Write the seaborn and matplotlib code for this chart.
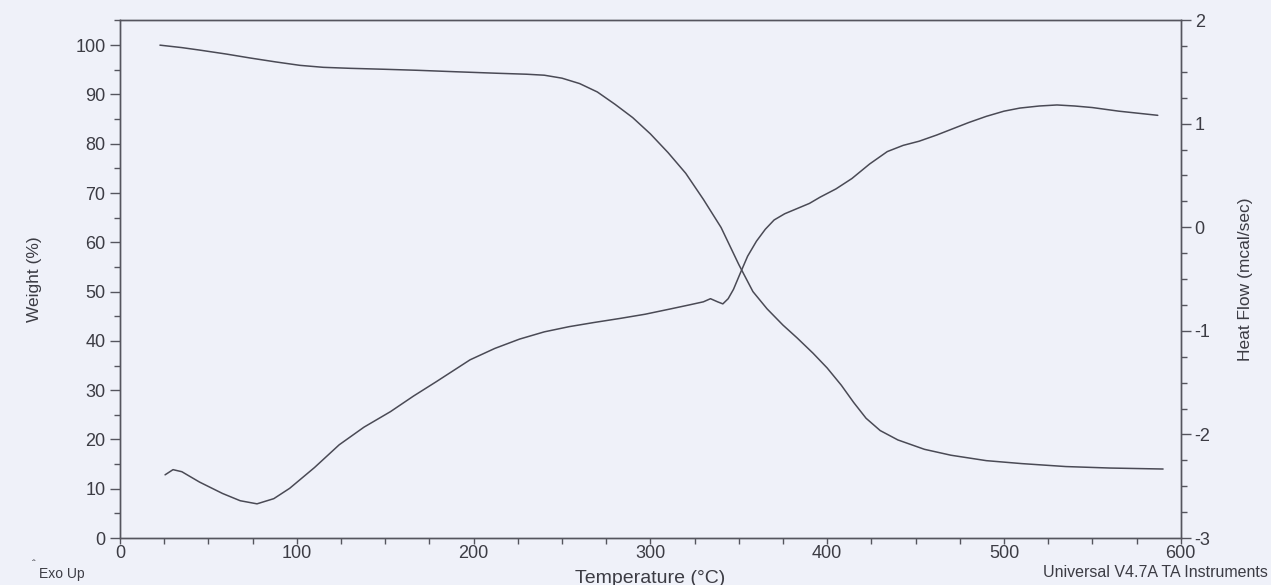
import matplotlib
matplotlib.use("Agg")
import matplotlib.pyplot as plt
import seaborn as sns
from matplotlib.ticker import MultipleLocator

# TGA weight curve (left axis)
temp_w = [22.6, 35, 45, 60, 73.5, 88, 101.8, 115, 130, 150, 168, 190, 213,
          230, 240, 250, 260, 270, 280, 290, 300, 310, 320, 330, 340, 350,
          358, 366, 375, 383, 392, 400, 408, 415, 422, 430, 440, 455, 470,
          490, 510, 535, 560, 590]
weight = [100, 99.5, 99, 98.2, 97.4, 96.6, 95.9, 95.5, 95.3, 95.1, 94.9, 94.6,
          94.3, 94.1, 93.9, 93.3, 92.2, 90.5, 88, 85.3, 82, 78.2, 74, 68.7, 63,
          55.5, 50, 46.5, 43.2, 40.6, 37.5, 34.5, 31, 27.5, 24.3, 21.8, 19.9,
          18, 16.8, 15.7, 15.1, 14.5, 14.2, 14.0]

# DSC heat flow curve (right axis)
temp_h = [25.5, 30, 35, 45, 58, 68, 77.5, 87, 96, 110, 124, 138, 153, 166,
          179, 198, 212, 226, 240, 254, 268, 283, 297, 311, 322, 330, 334, 338,
          341, 344, 347, 350.7, 355, 360, 365, 370, 376, 383, 390, 396, 405,
          414, 424, 434, 443, 452, 462, 471, 480, 490, 500, 509, 520, 530, 540,
          550, 565, 587]
heat_flow = [-2.39, -2.34, -2.36, -2.46, -2.57, -2.64, -2.67, -2.62, -2.52,
             -2.32, -2.10, -1.93, -1.78, -1.63, -1.49, -1.28, -1.17, -1.08,
             -1.01, -0.96, -0.92, -0.88, -0.84, -0.79, -0.75, -0.72, -0.69,
             -0.72, -0.74, -0.69, -0.60, -0.45, -0.28, -0.135, -0.02, 0.07,
             0.13, 0.18, 0.23, 0.29, 0.37, 0.47, 0.61, 0.73, 0.79, 0.83, 0.89,
             0.95, 1.01, 1.07, 1.12, 1.15, 1.17, 1.18, 1.17, 1.155, 1.12, 1.08]

paper = "#eff1f9"
ink = "#3c3c44"
curve = "#4a4a55"

sns.set_theme(style="ticks")
plt.rcParams["font.family"] = ["Liberation Sans", "DejaVu Sans"]
plt.rcParams["axes.unicode_minus"] = False

fig = plt.figure(figsize=(12.71, 5.85), dpi=100, facecolor=paper)
ax = fig.add_axes([0.0944, 0.0803, 0.8346, 0.8855])
ax.set_facecolor(paper)
ax2 = ax.twinx()

sns.lineplot(x=temp_w, y=weight, ax=ax, color=curve, linewidth=1.1, sort=False)
sns.lineplot(x=temp_h, y=heat_flow, ax=ax2, color=curve, linewidth=1.1, sort=False)

ax.set_xlim(0, 600)
ax.set_ylim(0, 105.1)
ax2.set_ylim(-3, 2)

ax.xaxis.set_major_locator(MultipleLocator(100))
ax.xaxis.set_minor_locator(MultipleLocator(25))
ax.yaxis.set_major_locator(MultipleLocator(10))
ax.yaxis.set_minor_locator(MultipleLocator(5))
ax2.yaxis.set_major_locator(MultipleLocator(1))
ax2.yaxis.set_minor_locator(MultipleLocator(0.25))

for a in (ax, ax2):
    for s in a.spines.values():
        s.set_color("#55555e")
        s.set_linewidth(1.0)
    a.tick_params(which="major", length=7, width=1, color="#55555e",
                  labelsize=13, labelcolor=ink)
    a.tick_params(which="minor", length=4, width=1, color="#55555e")
ax.tick_params(axis="x", which="both", length=4, pad=1)
ax2.tick_params(axis="y", which="major", pad=3)

ax.set_xlabel("Temperature (°C)", fontsize=14, color=ink, labelpad=6)
ax.set_ylabel("Weight (%)", fontsize=12.5, color=ink, labelpad=24)
ax2.set_ylabel("Heat Flow (mcal/sec)", fontsize=12.5, color=ink, labelpad=20)

fig.text(0.031, 0.006, "Exo Up", fontsize=10, color=ink, ha="left", va="bottom")
fig.text(0.025, 0.026, "ˆ", fontsize=8, color=ink, ha="left", va="bottom")
fig.text(0.821, 0.008, "Universal V4.7A TA Instruments", fontsize=11.5, color=ink,
         ha="left", va="bottom")

fig.savefig("out.png", dpi=100, facecolor=paper)
